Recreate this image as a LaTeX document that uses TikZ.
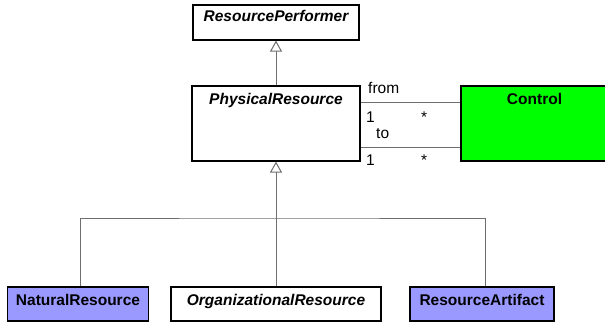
\documentclass[tikz,border=0pt]{standalone}
\usepackage{fontspec}
\setmainfont{Liberation Sans}
\usetikzlibrary{arrows.meta,positioning}
\definecolor{ctrlgreen}{HTML}{00FF00}
\definecolor{leafblue}{HTML}{9999FF}
\definecolor{linkgray}{HTML}{6E6E6E}

\begin{document}
\begin{tikzpicture}[x=1pt, y=-1pt,
  every node/.style={font=\fontsize{15.5}{18}\selectfont},
  cls/.style={draw=black, line width=1.1pt, fill=white, inner sep=0pt},
  title/.style={anchor=north, inner sep=7.5pt},
  role/.style={inner sep=0pt},
  link/.style={draw=linkgray, line width=1pt},
  gen/.style={link, -{Triangle[open, length=11pt, width=12pt, fill=white]}}]
  \useasboundingbox (0,0) rectangle (605,322);

  % Class boxes
  \node[cls, minimum width=166, minimum height=35] (RP) at (276,22.5) {};
  \node[cls, minimum width=168, minimum height=75] (PR) at (276,123.5) {};
  \node[cls, fill=ctrlgreen, minimum width=147, minimum height=75] (Ctrl) at (534.5,123.5) {};
  \node[cls, fill=leafblue, minimum width=141, minimum height=34] (NR) at (78,304) {};
  \node[cls, minimum width=210, minimum height=34] (OR) at (276,304) {};
  \node[cls, fill=leafblue, minimum width=144, minimum height=34] (RA) at (482,304) {};

  % Class names
  \node[title, inner sep=6pt] (RPname) at (RP.north) {\bfseries\itshape ResourcePerformer};
  \node[title] (PRname) at (PR.north) {\bfseries\itshape PhysicalResource};
  \node[title] (Ctrlname) at (Ctrl.north) {\bfseries Control};
  \node[title] (NRname) at (NR.north) {\bfseries NaturalResource};
  \node[title] (ORname) at (OR.north) {\bfseries\itshape OrganizationalResource};
  \node[title] (RAname) at (RA.north) {\bfseries ResourceArtifact};

  % Generalisations
  \draw[gen] (PR.north) -- (RP.south);
  \draw[gen] (OR.north) -- (PR.south);
  \coordinate (split) at (276,218);
  \draw[link] ([xshift=2]NR.north) |- (split) -| ([xshift=3]RA.north);

  % Associations
  \draw[link] ([yshift=21.5]PR.east) -- ([yshift=21.5]Ctrl.west);
  \draw[link] ([yshift=-23.5]PR.east) -- ([yshift=-23.5]Ctrl.west);

  % Role names and multiplicities
  \node[role, anchor=base west] (from) at (368,93) {from};
  \node[role, anchor=base west] (fromA) at (366,122) {1};
  \node[role, anchor=base west] (fromB) at (421,122) {*};
  \node[role, anchor=base west] (to) at (376,138) {to};
  \node[role, anchor=base west] (toA) at (366,165) {1};
  \node[role, anchor=base west] (toB) at (421,165) {*};
\end{tikzpicture}
\end{document}
